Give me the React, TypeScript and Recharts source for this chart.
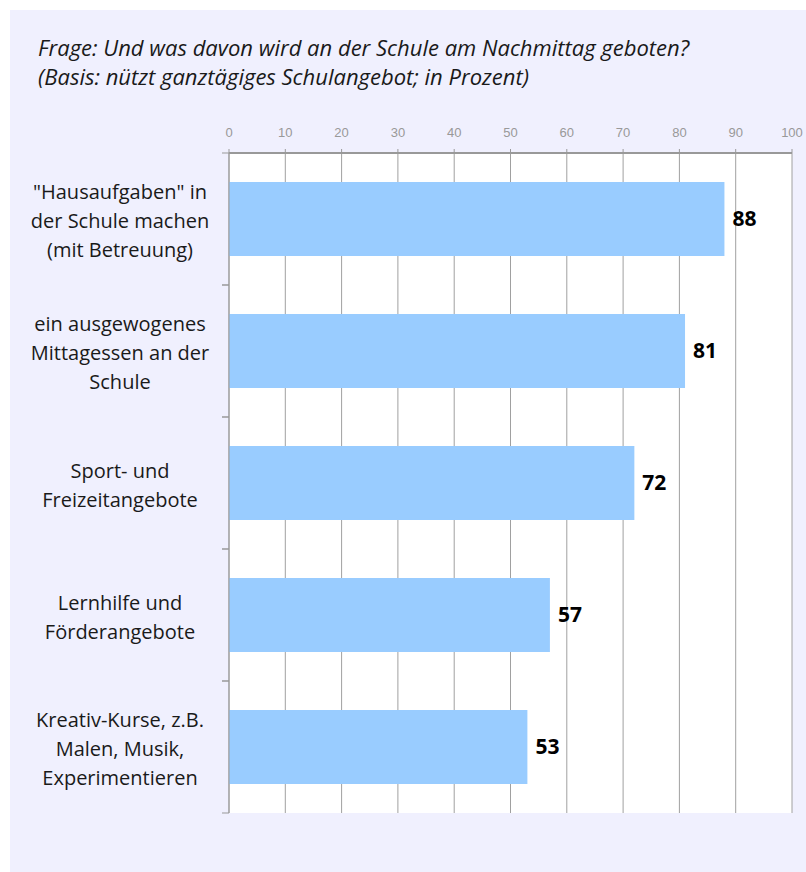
import { BarChart, Bar, XAxis, YAxis, CartesianGrid, LabelList } from "recharts";

const categories = [
  '"Hausaufgaben" in\nder Schule machen\n(mit Betreuung)',
  "ein ausgewogenes\nMittagessen an der\nSchule",
  "Sport- und\nFreizeitangebote",
  "Lernhilfe und\nFörderangebote",
  "Kreativ-Kurse, z.B.\nMalen, Musik,\nExperimentieren",
];
const values = [88, 81, 72, 57, 53];
const xTicks = [0, 10, 20, 30, 40, 50, 60, 70, 80, 90, 100];

const data = categories.map((name, i) => ({ name, value: values[i] }));

const LABEL_FONT = "'Open Sans', 'DejaVu Sans', sans-serif";

function CategoryTick(props: any) {
  const { x, y, payload } = props;
  const lines = String(payload.value).split("\n");
  const half = payload.offset ?? 66;
  const lineH = 29;
  const startY = y + 2 - ((lines.length - 1) * lineH) / 2;
  return (
    <g>
      <line x1={x + 1} x2={x + 8} y1={y + half} y2={y + half} stroke="#999" />
      <line x1={x + 1} x2={x + 8} y1={y - half} y2={y - half} stroke="#999" />
      {lines.map((l, i) => (
        <text
          key={i}
          x={120}
          y={startY + i * lineH}
          dy="0.35em"
          textAnchor="middle"
          fill="#1a1a1a"
          fontSize={20}
          fontFamily={LABEL_FONT}
        >
          {l}
        </text>
      ))}
    </g>
  );
}

export default function App() {
  return (
    <div style={{ position: "absolute", left: 0, top: 0, width: 806, height: 872, background: "#fff", overflow: "hidden" }}>
      <div
        style={{
          position: "absolute",
          left: 10,
          top: 10,
          width: 796,
          height: 862,
          background: "#F0F0FE",
        }}
      />
      <div
        style={{
          position: "absolute",
          left: 38,
          top: 33,
          fontFamily: LABEL_FONT,
          fontStyle: "italic",
          fontSize: 22,
          lineHeight: "29px",
          color: "#1a1a1a",
          whiteSpace: "nowrap",
        }}
      >
        <div>Frage: Und was davon wird an der Schule am Nachmittag geboten?</div>
        <div>(Basis: nützt ganztägiges Schulangebot; in Prozent)</div>
      </div>
      <div style={{ position: "absolute", left: 0, top: 0 }}>
        <BarChart
          width={806}
          height={872}
          data={data}
          layout="vertical"
          margin={{ top: 123, right: 14, bottom: 59, left: 0 }}
          barSize={74}
        >
          <CartesianGrid horizontal={false} stroke="#a0a0a0" fill="#fff" />
          <XAxis
            type="number"
            orientation="top"
            domain={[0, 100]}
            ticks={xTicks}
            height={30}
            tickSize={4}
            tickMargin={12}
            axisLine={{ stroke: "#999", strokeWidth: 2 }}
            tickLine={{ stroke: "#999" }}
            tick={{ fill: "#999", fontSize: 13, fontFamily: "'Liberation Sans Narrow', 'Liberation Sans', sans-serif" }}
          />
          <XAxis
            xAxisId="bottom"
            type="number"
            orientation="bottom"
            domain={[0, 100]}
            height={0}
            tick={false}
            tickLine={false}
            axisLine={{ stroke: "#c4c4cc", strokeWidth: 2 }}
          />
          <YAxis
            type="category"
            dataKey="name"
            width={229}
            axisLine={{ stroke: "#999" }}
            tickLine={false}
            tick={<CategoryTick />}
            interval={0}
          />
          <Bar dataKey="value" fill="#99CCFF" isAnimationActive={false}>
            <LabelList
              dataKey="value"
              position="right"
              offset={8}
              fill="#000"
              fontSize={21}
              fontWeight="bold"
              fontFamily={LABEL_FONT}
            />
          </Bar>
        </BarChart>
      </div>
    </div>
  );
}
